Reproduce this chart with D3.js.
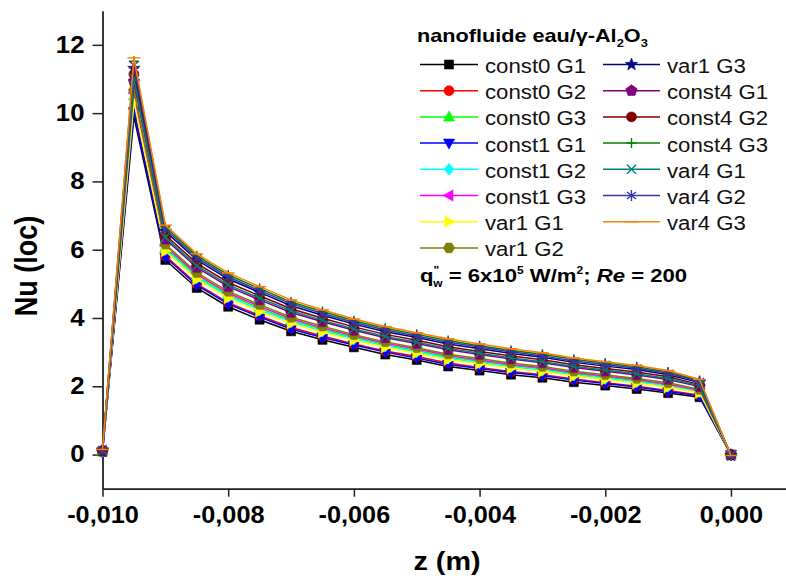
<!DOCTYPE html>
<html>
<head>
<meta charset="utf-8">
<script src="https://cdn.jsdelivr.net/npm/d3@7"></script>
<style>
  html, body { margin: 0; padding: 0; background: #fff; }
  svg { display: block; font-family: Arial, "Liberation Sans", sans-serif; }
</style>
</head>
<body>
<svg id="chart" width="786" height="576"></svg>
<script>
// Axial positions (m)
const z = [-0.010, -0.0095, -0.009, -0.0085, -0.008, -0.0075, -0.007, -0.0065, -0.006, -0.0055,
           -0.005, -0.0045, -0.004, -0.0035, -0.003, -0.0025, -0.002, -0.0015, -0.001, -0.0005, 0.000];

// Local Nusselt number per case
const const0G1 = [0.08, 9.90, 5.70, 4.88, 4.33, 3.95, 3.61, 3.36, 3.14, 2.93, 2.77, 2.58, 2.46, 2.34, 2.25, 2.12, 2.02, 1.92, 1.80, 1.68, 0.00];
const const0G2 = [0.09, 10.11, 5.82, 5.00, 4.45, 4.07, 3.72, 3.47, 3.24, 3.03, 2.87, 2.68, 2.55, 2.43, 2.34, 2.21, 2.10, 2.00, 1.88, 1.74, 0.00];
const const0G3 = [0.11, 10.50, 6.06, 5.23, 4.68, 4.29, 3.93, 3.67, 3.43, 3.22, 3.05, 2.86, 2.73, 2.61, 2.51, 2.37, 2.27, 2.16, 2.03, 1.86, -0.01];
const const1G1 = [0.07, 10.04, 5.78, 4.96, 4.41, 4.03, 3.68, 3.43, 3.21, 3.00, 2.83, 2.64, 2.52, 2.40, 2.31, 2.18, 2.08, 1.98, 1.85, 1.72, 0.00];
const const1G2 = [0.10, 10.42, 6.01, 5.18, 4.63, 4.24, 3.89, 3.62, 3.39, 3.18, 3.01, 2.82, 2.69, 2.57, 2.47, 2.33, 2.23, 2.13, 2.00, 1.84, -0.01];
const const1G3 = [0.12, 10.59, 6.11, 5.28, 4.73, 4.34, 3.98, 3.71, 3.47, 3.26, 3.09, 2.90, 2.77, 2.64, 2.54, 2.40, 2.30, 2.20, 2.06, 1.89, -0.02];
const var1G1   = [0.09, 10.33, 5.96, 5.13, 4.58, 4.19, 3.84, 3.58, 3.35, 3.14, 2.97, 2.78, 2.66, 2.53, 2.43, 2.30, 2.20, 2.09, 1.97, 1.81, 0.00];
const var1G2   = [0.11, 10.67, 6.16, 5.33, 4.78, 4.39, 4.02, 3.76, 3.51, 3.30, 3.13, 2.94, 2.81, 2.68, 2.58, 2.44, 2.34, 2.23, 2.10, 1.91, -0.01];
const var1G3   = [0.13, 11.31, 6.54, 5.70, 5.14, 4.75, 4.36, 4.08, 3.82, 3.60, 3.43, 3.24, 3.10, 2.96, 2.85, 2.70, 2.59, 2.49, 2.34, 2.11, -0.02];
const const4G1 = [0.10, 10.93, 6.31, 5.48, 4.92, 4.53, 4.16, 3.89, 3.64, 3.42, 3.25, 3.07, 2.93, 2.80, 2.69, 2.55, 2.44, 2.33, 2.20, 1.99, -0.01];
const const4G2 = [0.11, 11.14, 6.43, 5.60, 5.04, 4.65, 4.27, 3.99, 3.74, 3.52, 3.35, 3.16, 3.02, 2.89, 2.78, 2.63, 2.52, 2.42, 2.28, 2.05, -0.01];
const const4G3 = [0.14, 11.52, 6.66, 5.82, 5.26, 4.86, 4.47, 4.19, 3.92, 3.70, 3.52, 3.34, 3.19, 3.05, 2.94, 2.79, 2.68, 2.57, 2.42, 2.17, -0.02];
const var4G1   = [0.12, 11.02, 6.36, 5.53, 4.97, 4.58, 4.21, 3.93, 3.68, 3.46, 3.29, 3.11, 2.97, 2.83, 2.72, 2.58, 2.48, 2.37, 2.23, 2.02, -0.02];
const var4G2   = [0.13, 11.41, 6.60, 5.76, 5.20, 4.80, 4.42, 4.13, 3.87, 3.65, 3.47, 3.29, 3.15, 3.01, 2.89, 2.74, 2.64, 2.53, 2.38, 2.14, -0.03];
const var4G3   = [0.15, 11.62, 6.72, 5.88, 5.32, 4.92, 4.53, 4.24, 3.97, 3.75, 3.57, 3.39, 3.24, 3.10, 2.98, 2.83, 2.72, 2.61, 2.46, 2.20, -0.03];

const seriesNames = ["const0 G1", "const0 G2", "const0 G3", "const1 G1", "const1 G2", "const1 G3",
                     "var1 G1", "var1 G2", "var1 G3", "const4 G1", "const4 G2", "const4 G3",
                     "var4 G1", "var4 G2", "var4 G3"];
const seriesValues = [const0G1, const0G2, const0G3, const1G1, const1G2, const1G3,
                      var1G1, var1G2, var1G3, const4G1, const4G2, const4G3,
                      var4G1, var4G2, var4G3];
const seriesColors = ["#000000", "#ff0000", "#00ff00", "#0000ff", "#00ffff", "#ff00ff",
                      "#ffff00", "#808000", "#000080", "#800080", "#800000", "#008000",
                      "#008080", "#3535aa", "#ff8000"];
const seriesSymbols = ["square", "circle", "triUp", "triDown", "diamond", "triLeft",
                       "triRight", "hexagon", "star", "pentagon", "circle", "plus",
                       "cross", "asterisk", "dash"];

const xTicks = [-0.010, -0.008, -0.006, -0.004, -0.002, 0.000];
const xMinorTicks = [-0.009, -0.007, -0.005, -0.003, -0.001];
const yTicks = [0, 2, 4, 6, 8, 10, 12];
const yMinorTicks = [-1, 1, 3, 5, 7, 9, 11, 13];

const legendTitle = "nanofluide eau/γ-Al";
const xTitle = "z (m)";
const yTitle = "Nu (loc)";

// ---------------------------------------------------------------
const svg = d3.select("#chart");
const W = 786, H = 576;

svg.append("rect").attr("width", W).attr("height", H).attr("fill", "#fff");

const x = d3.scaleLinear().domain([-0.010, 0.001]).range([102.5, 793.8]);
const y = d3.scaleLinear().domain([-1, 13]).range([488.7, 10.7]);

const loc = d3.formatLocale({ decimal: ",", thousands: ".", grouping: [3], currency: ["", ""], minus: "-" });
const fmtX = loc.format(".3f");

// Widen glyphs horizontally, as the text is set in a wide face
function widen(sel, k) {
  sel.each(function () {
    const L = this.getComputedTextLength();
    d3.select(this).attr("textLength", L * k).attr("lengthAdjust", "spacingAndGlyphs");
  });
}

// Marker shapes
function markerPath(type) {
  const poly = pts => "M" + pts.map(p => p[0].toFixed(2) + "," + p[1].toFixed(2)).join("L") + "Z";
  const reg = (n, r, rot) => d3.range(n).map(i => {
    const a = rot + i * 2 * Math.PI / n;
    return [r * Math.cos(a), r * Math.sin(a)];
  });
  switch (type) {
    case "square": return "M-4.5,-4.5h9v9h-9Z";
    case "circle": return "M5,0A5,5 0 1,1 -5,0A5,5 0 1,1 5,0Z";
    case "triUp": return poly([[0, -6], [5.6, 4], [-5.6, 4]]);
    case "triDown": return poly([[0, 6], [5.6, -4], [-5.6, -4]]);
    case "triLeft": return poly([[-6, 0], [4, -5.6], [4, 5.6]]);
    case "triRight": return poly([[6, 0], [-4, -5.6], [-4, 5.6]]);
    case "diamond": return poly([[0, -6], [5, 0], [0, 6], [-5, 0]]);
    case "hexagon": return poly(reg(6, 5.6, 0));
    case "pentagon": return poly(reg(5, 6, -Math.PI / 2));
    case "star": {
      const pts = [];
      for (let i = 0; i < 10; i++) {
        const r = i % 2 === 0 ? 6.5 : 2.7;
        const a = -Math.PI / 2 + i * Math.PI / 5;
        pts.push([r * Math.cos(a), r * Math.sin(a)]);
      }
      return poly(pts);
    }
    case "plus": return "M-5,0H5M0,-5V5";
    case "cross": return "M-4.5,-4.5L4.5,4.5M-4.5,4.5L4.5,-4.5";
    case "asterisk": return "M0,-5.5V5.5M-4.5,-3.5L4.5,3.5M-4.5,3.5L4.5,-3.5";
    case "dash": return "M-6.5,0H6.5";
  }
}
const strokeOnly = new Set(["plus", "cross", "asterisk", "dash"]);

function drawMarker(g, type, color, cx, cy) {
  const p = g.append("path")
    .attr("d", markerPath(type))
    .attr("transform", `translate(${cx},${cy})`);
  if (strokeOnly.has(type)) {
    p.attr("fill", "none").attr("stroke", color).attr("stroke-width", 1.4);
  } else {
    p.attr("fill", color).attr("stroke", color).attr("stroke-width", 0.6);
  }
}

// ---- axes ----
const axisColor = "#222";
const tickFont = 23;
const gx = svg.append("g").attr("transform", `translate(0,${y(-1)})`);
gx.call(d3.axisBottom(x).tickValues(xMinorTicks).tickSize(5).tickFormat(""))
  .call(g => g.select(".domain").remove());
gx.call(d3.axisBottom(x).tickValues(xTicks).tickSizeInner(8).tickSizeOuter(0).tickPadding(10).tickFormat(fmtX));
gx.selectAll("line").attr("stroke", axisColor).attr("stroke-width", 1.5);
gx.selectAll(".domain").attr("stroke", axisColor).attr("stroke-width", 1.8);
gx.selectAll("text").attr("fill", "#000").attr("font-size", tickFont).attr("font-weight", "bold")
  .attr("font-family", "Arial, 'Liberation Sans', sans-serif");

const gy = svg.append("g").attr("transform", `translate(${x(-0.010)},0)`);
gy.call(d3.axisLeft(y).tickValues(yMinorTicks).tickSize(6).tickFormat(""))
  .call(g => g.select(".domain").remove());
gy.call(d3.axisLeft(y).tickValues(yTicks).tickSizeInner(10).tickSizeOuter(0).tickPadding(8).tickFormat(d3.format("d")));
gy.selectAll("line").attr("stroke", axisColor).attr("stroke-width", 1.5);
gy.selectAll(".domain").attr("stroke", axisColor).attr("stroke-width", 1.8);
gy.selectAll("text").attr("fill", "#000").attr("font-size", tickFont).attr("font-weight", "bold")
  .attr("font-family", "Arial, 'Liberation Sans', sans-serif");

widen(gx.selectAll("text"), 1.1);
widen(gy.selectAll("text"), 1.12);

// axis titles
const xt = svg.append("text").attr("x", 447).attr("y", 570).attr("text-anchor", "middle")
  .attr("font-size", 25).attr("font-weight", "bold").text(xTitle);
widen(xt, 1.15);

svg.append("text")
  .attr("transform", "translate(37,266) scale(1.15,1) rotate(-90)")
  .attr("text-anchor", "middle")
  .attr("font-size", 27).attr("font-weight", "bold").text(yTitle);

// ---- series ----
const line = d3.line().x((d, i) => x(z[i])).y(d => y(d));
const plot = svg.append("g");
seriesValues.forEach((vals, s) => {
  const g = plot.append("g");
  g.append("path").datum(vals).attr("d", line)
    .attr("fill", "none").attr("stroke", seriesColors[s]).attr("stroke-width", 1.5);
  vals.forEach((v, i) => drawMarker(g, seriesSymbols[s], seriesColors[s], x(z[i]), y(v)));
});

// ---- legend ----
const lg = svg.append("g");
const title = lg.append("text").attr("x", 417).attr("y", 42)
  .attr("font-size", 18.5).attr("font-weight", "bold");
title.append("tspan").text(legendTitle);
title.append("tspan").attr("font-size", 11).attr("dy", 5).text("2");
title.append("tspan").attr("dy", -5).text("O");
title.append("tspan").attr("font-size", 11).attr("dy", 5).text("3");
widen(title, 1.17);

const rowY0 = 73, rowStep = 26.2;
const cols = [
  { lineX0: 420, lineX1: 478, textX: 485 },
  { lineX0: 603, lineX1: 660, textX: 667 }
];
seriesNames.forEach((name, s) => {
  const c = s < 8 ? 0 : 1;
  const r = s < 8 ? s : s - 8;
  const base = rowY0 + r * rowStep;
  const my = base - 8.5;
  const col = cols[c];
  lg.append("line").attr("x1", col.lineX0).attr("x2", col.lineX1).attr("y1", my).attr("y2", my)
    .attr("stroke", seriesColors[s]).attr("stroke-width", 1.5);
  drawMarker(lg, seriesSymbols[s], seriesColors[s], (col.lineX0 + col.lineX1) / 2, my);
  const t = lg.append("text").attr("x", col.textX).attr("y", base)
    .attr("font-size", 20).attr("fill", "#111").text(name);
  widen(t, 1.11);
});

// heat flux / Reynolds note
const note = lg.append("text").attr("x", 420).attr("y", 282)
  .attr("font-size", 18.5).attr("font-weight", "bold");
note.append("tspan").text("q");
note.append("tspan").attr("font-size", 10).attr("dy", -8).text("\"");
note.append("tspan").attr("font-size", 10).attr("dx", -5).attr("dy", 13).text("w");
note.append("tspan").attr("dy", -5).text(" = 6x10");
note.append("tspan").attr("font-size", 10).attr("dy", -8).text("5");
note.append("tspan").attr("dy", 8).text(" W/m");
note.append("tspan").attr("font-size", 10).attr("dy", -8).text("2");
note.append("tspan").attr("dy", 8).text("; ");
note.append("tspan").attr("font-style", "italic").text("Re");
note.append("tspan").text(" = 200");
widen(note, 1.17);
</script>
</body>
</html>
